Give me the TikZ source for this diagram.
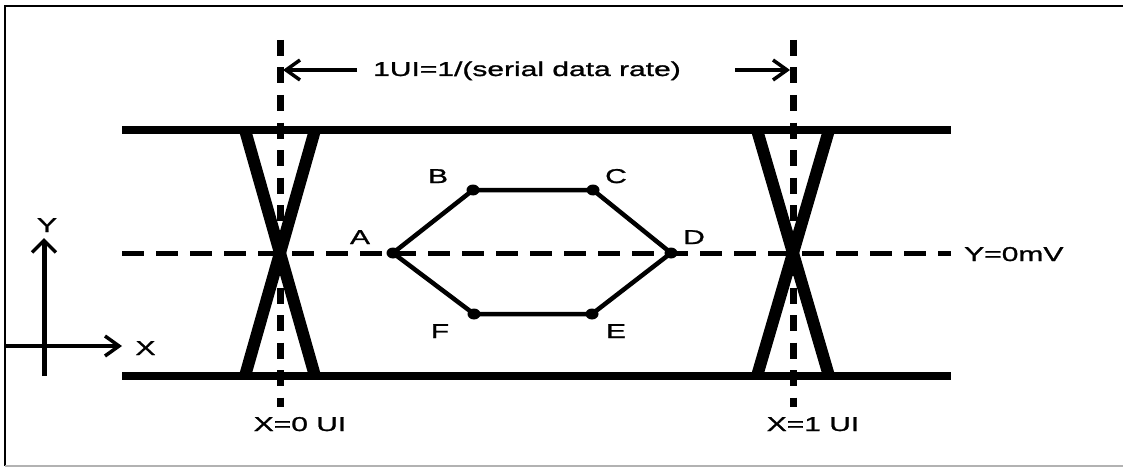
\documentclass[tikz,border=0pt]{standalone}
\usepackage{fontspec}
\setmainfont[FakeStretch=1.5,FakeBold=1.2]{Liberation Sans}
\usetikzlibrary{arrows.meta,shapes.geometric}
\begin{document}
\begin{tikzpicture}[x=1pt,y=-1pt,
  lbl/.style={inner sep=0pt,anchor=base,font=\fontsize{20}{24}\selectfont},
  rail/.style={line width=8.5pt},
  leg/.style={line width=12pt},
  hdash/.style={line width=5pt,dash pattern=on 22pt off 12pt},
  vdash/.style={line width=7pt,dash pattern=on 16pt off 11.5pt},
  hexline/.style={line width=4.5pt},
  pt/.style={ellipse,fill=black,inner sep=0pt,minimum width=13pt,minimum height=11pt},
  harrow/.style={line width=4pt,-{Straight Barb[length=14pt,width=20pt,line width=3.5pt]}},
  varrow/.style={line width=5pt,-{Straight Barb[length=12pt,width=24pt,line width=3.5pt]}}]
\useasboundingbox (0,0) rectangle (1123,468);
% frame
\draw[line width=2pt] (1123,6) -- (5,6) -- (5,466);
\draw[line width=2pt,black!30] (5,466) -- (1123,466);
% coordinates
\coordinate (tl) at (122,130); \coordinate (tr) at (951,130);
\coordinate (bl) at (122,376); \coordinate (br) at (951,376);
\coordinate (ml) at (122,253); \coordinate (mr) at (951,253);
\coordinate (v0t) at (280,40); \coordinate (v0b) at (280,407);
\coordinate (v1t) at (793,40); \coordinate (v1b) at (793,407);
\coordinate (f0a) at (245,130); \coordinate (f0b) at (315,376);
\coordinate (f0c) at (315,130); \coordinate (f0d) at (245,376);
\coordinate (f1a) at (757,130); \coordinate (f1b) at (829,376);
\coordinate (f1c) at (829,130); \coordinate (f1d) at (757,376);
% rails
\draw[rail] (tl) -- (tr);
\draw[rail] (bl) -- (br);
% crossings
\draw[leg] (f0a) -- (f0b);
\draw[leg] (f0c) -- (f0d);
\draw[leg] (f1a) -- (f1b);
\draw[leg] (f1c) -- (f1d);
% dashed lines
\draw[hdash] (ml) -- (mr);
\draw[vdash] (v0t) -- (v0b);
\draw[vdash] (v1t) -- (v1b);
% hexagon
\node[pt] (A) at (393,253) {};
\node[pt] (B) at (473,190) {};
\node[pt] (C) at (593,190) {};
\node[pt] (D) at (671,253) {};
\node[pt] (E) at (592,314) {};
\node[pt] (F) at (474,314) {};
\draw[hexline] (A.center) -- (B.center) -- (C.center) -- (D.center) -- (E.center) -- (F.center) -- cycle;
% labels
\node[lbl] (lA) at (360,244) {A};
\node[lbl] (lB) at (438,183) {B};
\node[lbl] (lC) at (616,183) {C};
\node[lbl] (lD) at (694,244) {D};
\node[lbl] (lE) at (616,338) {E};
\node[lbl] (lF) at (440,338) {F};
\node[lbl] (x0) at (300,431) {X=0 UI};
\node[lbl] (x1) at (813,431) {X=1 UI};
\node[lbl,anchor=base west] (y0) at (964,261) {Y=0mV};
\node[lbl] (ui) at (527,76) {1UI=1/(serial data rate)};
% dimension arrows
\coordinate (al) at (357,70); \coordinate (alt) at (283,70);
\coordinate (ar) at (735,70); \coordinate (art) at (790,70);
\draw[harrow] (al) -- (alt);
\draw[harrow] (ar) -- (art);
% axes
\coordinate (yb) at (44,376); \coordinate (yt) at (44,238);
\coordinate (xl) at (5,346); \coordinate (xr) at (122,346);
\draw[varrow] (yb) -- (yt);
\draw[harrow] (xl) -- (xr);
\node[lbl] (lY) at (47,232) {Y};
\node[lbl] (lX) at (145.5,355) {X};
\end{tikzpicture}
\end{document}
